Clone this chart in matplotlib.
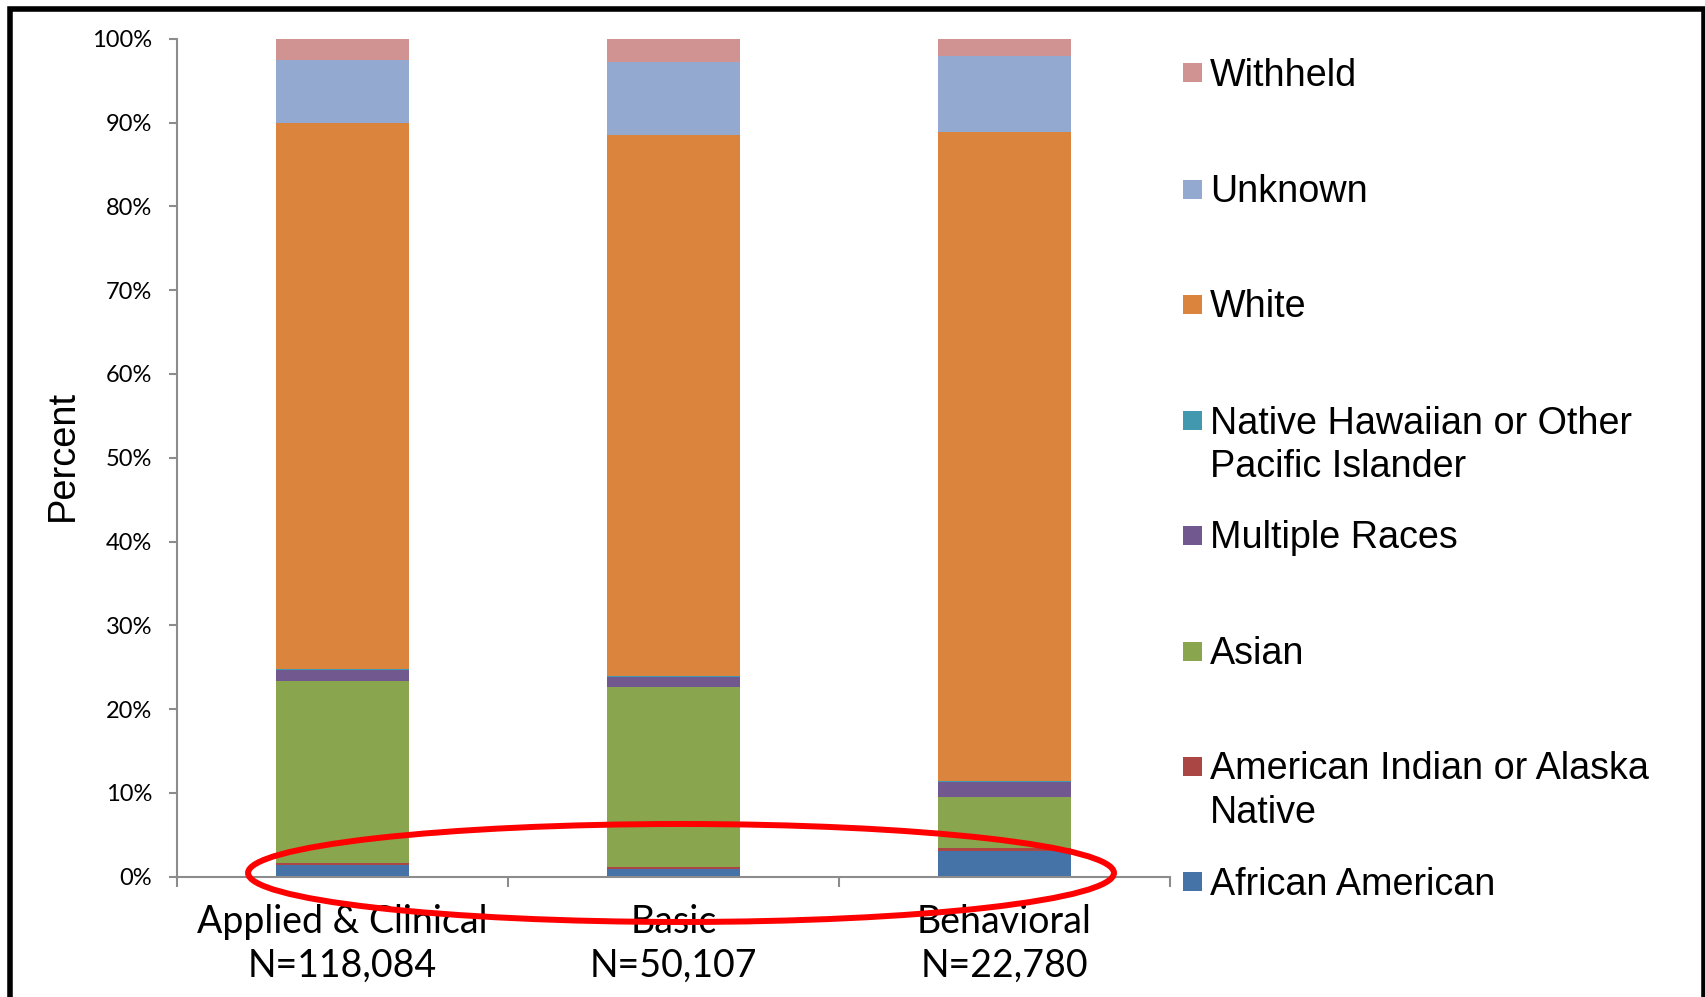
import matplotlib
matplotlib.use("Agg")
import matplotlib.pyplot as plt
from matplotlib.patches import Ellipse, Rectangle
import numpy as np

categories = ["Applied & Clinical\nN=118,084", "Basic\nN=50,107", "Behavioral\nN=22,780"]
series_names = ["African American", "American Indian or Alaska\nNative", "Asian", "Multiple Races",
                "Native Hawaiian or Other\nPacific Islander", "White", "Unknown", "Withheld"]
african_american = [1.4, 0.9, 3.0]
american_indian = [0.2, 0.2, 0.35]
asian = [21.7, 21.5, 6.2]
multiple_races = [1.4, 1.2, 1.7]
native_hawaiian = [0.1, 0.15, 0.1]
white = [65.2, 64.55, 77.55]
unknown = [7.5, 8.7, 9.1]
withheld = [2.5, 2.8, 2.0]
yticks = [0, 10, 20, 30, 40, 50, 60, 70, 80, 90, 100]
ytick_labels = [f"{v}%" for v in yticks]

colors = ["#4573A7", "#AA4643", "#89A54E", "#71588F", "#4198AF", "#DB843D", "#93A9CF", "#D19392"]
values = [african_american, american_indian, asian, multiple_races, native_hawaiian, white, unknown, withheld]

W, H = 1705, 997
fig = plt.figure(figsize=(W / 100, H / 100), dpi=100)
ax = fig.add_axes([177 / W, 1 - 876.5 / H, (1170 - 177) / W, (876.5 - 39) / H])

x = np.arange(len(categories))
bottom = np.zeros(len(categories))
for vals, col in zip(values, colors):
    ax.bar(x, vals, width=0.40, bottom=bottom, color=col, edgecolor="none")
    bottom += np.array(vals)

ax.set_xlim(-0.5, 2.5)
ax.set_ylim(0, 100)
ax.set_yticks(yticks)
ax.set_yticklabels(ytick_labels, fontfamily="Lato", fontsize=17)
ax.set_xticks(x)
ax.set_xticklabels(categories, fontfamily="Lato", fontsize=27, linespacing=1.26)
ax.tick_params(axis="x", length=0, pad=20)
ax.set_xticks([-0.5, 0.5, 1.5, 2.5], minor=True)
ax.tick_params(axis="x", which="minor", length=7, width=1.5, color="#8c8c8c", direction="out")
ax.tick_params(axis="y", length=6, width=1.5, color="#8c8c8c", direction="out", pad=12)
for s in ["top", "right"]:
    ax.spines[s].set_visible(False)
for s in ["left", "bottom"]:
    ax.spines[s].set_color("#8c8c8c")
    ax.spines[s].set_linewidth(1.5)

fig.text(63 / W, 1 - 455 / H, "Percent", rotation=90, fontfamily="Liberation Sans",
         fontsize=27.4, ha="center", va="center")

# Legend (reverse order)
slot_y = [72.9, 189.2, 304.5, 420.8, 535, 651.3, 766.6, 881.9]
for i, (name, col) in enumerate(zip(series_names[::-1], colors[::-1])):
    yc = slot_y[i]
    fig.add_artist(Rectangle((1183 / W, 1 - (yc + 9.5) / H), 19 / W, 19 / H,
                             transform=fig.transFigure, facecolor=col, edgecolor="none"))
    fig.text(1210 / W, 1 - (yc - 15.3) / H, name, fontfamily="Liberation Sans", fontsize=27.2,
             ha="left", va="top", linespacing=1.26)

# Red ellipse highlight
ell = Ellipse((1.0227, 0.42), 2.616, 11.7, fill=False, edgecolor="#FF0000", linewidth=4.3,
              clip_on=False, zorder=5)
ax.add_patch(ell)

# Black frame
fig.add_artist(Rectangle((9.5 / W, -0.05), (1703.5 - 9.5) / W, 1.05 - 9.5 / H,
                         transform=fig.transFigure, fill=False, edgecolor="black", linewidth=4))

fig.savefig("out.png", dpi=100)
